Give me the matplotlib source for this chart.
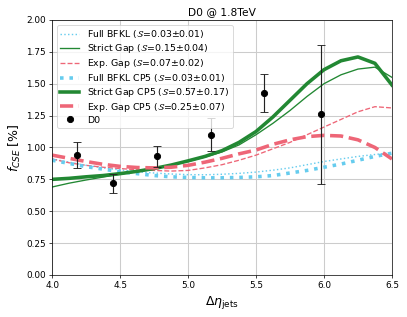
"""D0 @ 1.8 TeV: colour-singlet-exchange fraction vs. rapidity gap between jets."""

import matplotlib.pyplot as plt
import numpy as np

# Theory curves sampled on the delta-eta grid
deta = [4.0, 4.125, 4.25, 4.375, 4.5, 4.625, 4.75, 4.875, 5.0, 5.125, 5.25,
        5.375, 5.5, 5.625, 5.75, 5.875, 6.0, 6.125, 6.25, 6.375, 6.5]

full_bfkl = [0.91, 0.885, 0.86, 0.84, 0.825, 0.81, 0.80, 0.792, 0.787, 0.786, 0.79,
             0.797, 0.807, 0.822, 0.84, 0.865, 0.89, 0.91, 0.93, 0.945, 0.96]
strict_gap = [0.69, 0.72, 0.745, 0.768, 0.79, 0.81, 0.835, 0.862, 0.89, 0.925, 0.965,
              1.02, 1.10, 1.19, 1.29, 1.40, 1.50, 1.57, 1.615, 1.63, 1.55]
exp_gap = [0.91, 0.88, 0.86, 0.845, 0.835, 0.825, 0.82, 0.815, 0.82, 0.84, 0.865,
           0.90, 0.94, 0.99, 1.04, 1.10, 1.16, 1.22, 1.28, 1.32, 1.31]
full_bfkl_cp5 = [0.90, 0.875, 0.85, 0.83, 0.81, 0.795, 0.78, 0.77, 0.765, 0.762, 0.762,
                 0.765, 0.77, 0.78, 0.80, 0.82, 0.845, 0.87, 0.90, 0.93, 0.955]
strict_gap_cp5 = [0.75, 0.758, 0.77, 0.78, 0.795, 0.813, 0.835, 0.862, 0.895, 0.93, 0.975,
                  1.04, 1.125, 1.24, 1.37, 1.50, 1.61, 1.68, 1.71, 1.66, 1.49]
exp_gap_cp5 = [0.94, 0.915, 0.89, 0.868, 0.852, 0.843, 0.84, 0.845, 0.86, 0.885, 0.915,
               0.95, 0.98, 1.025, 1.06, 1.085, 1.095, 1.09, 1.06, 1.00, 0.91]

# D0 measurement
d0_x = [4.18, 4.45, 4.77, 5.17, 5.56, 5.98]
d0_y = [0.94, 0.72, 0.93, 1.10, 1.43, 1.26]
d0_err = [0.10, 0.075, 0.085, 0.13, 0.15, 0.545]

green = "#228833"
red = "#EE6677"
cyan = "#66CCEE"

dpi = 64
fig = plt.figure(figsize=(407 / dpi, 317 / dpi), dpi=dpi)
ax = fig.add_axes([0.128, 0.1325, 0.835, 0.8045])

ax.plot(deta, full_bfkl, ":", color=cyan, lw=1.6, label=r"Full BFKL ($\mathcal{S}$=0.03±0.01)")
ax.plot(deta, strict_gap, "-", color=green, lw=1.5, label=r"Strict Gap ($\mathcal{S}$=0.15±0.04)")
ax.plot(deta, exp_gap, "--", color=red, lw=1.5, label=r"Exp. Gap ($\mathcal{S}$=0.07±0.02)")
ax.plot(deta, full_bfkl_cp5, ":", color=cyan, lw=4, label=r"Full BFKL CP5 ($\mathcal{S}$=0.03±0.01)")
ax.plot(deta, strict_gap_cp5, "-", color=green, lw=4, label=r"Strict Gap CP5 ($\mathcal{S}$=0.57±0.17)")
ax.plot(deta, exp_gap_cp5, "--", color=red, lw=4, label=r"Exp. Gap CP5 ($\mathcal{S}$=0.25±0.07)")

# error bars drawn separately so the legend shows only the marker
ax.errorbar(d0_x, d0_y, yerr=d0_err, fmt="none", ecolor="#222222",
            elinewidth=1.3, capsize=5)
ax.plot(d0_x, d0_y, "o", color="black", ms=7, label="D0")

ax.set_xlim(4.0, 6.5)
ax.set_ylim(0.0, 2.0)
ax.set_xticks(np.arange(4.0, 6.51, 0.5))
ax.set_yticks(np.arange(0.0, 2.01, 0.25))
ax.tick_params(labelsize=10)
ax.grid(True, color="#cccccc", lw=1.2)

ax.set_title("D0 @ 1.8TeV", fontsize=12)
ax.set_xlabel(r"$\Delta\eta_{\rm jets}$", fontsize=14)
ax.set_ylabel(r"$f_{CSE}$ [%]", fontsize=14)

ax.legend(loc="upper left", fontsize=10.5, framealpha=0.8, labelspacing=0.2)

plt.savefig("out.png", dpi=dpi)
